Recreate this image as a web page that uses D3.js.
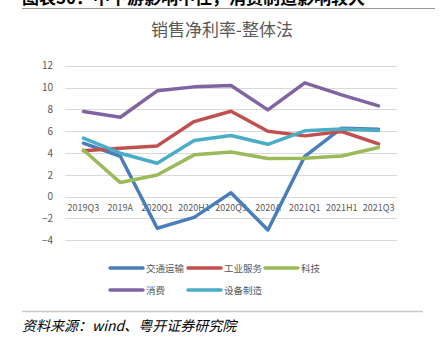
<!DOCTYPE html>
<html><head><meta charset="utf-8">
<script src="https://cdn.jsdelivr.net/npm/d3@7"></script>
<style>body{margin:0;background:#fff}svg{display:block}</style>
</head><body>
<svg id="c" width="439" height="342"></svg>
<script>
const categories = ["2019Q3","2019A","2020Q1","2020H1","2020Q3","2020A","2021Q1","2021H1","2021Q3"];
const transport = [4.9, 3.7, -2.9, -1.9, 0.35, -3.05, 3.7, 6.27, 6.18];
const industrialService = [4.2, 4.44, 4.65, 6.88, 7.83, 6.0, 5.57, 5.97, 4.83];
const tech = [4.28, 1.29, 1.99, 3.83, 4.1, 3.49, 3.52, 3.73, 4.5];
const consumption = [7.8, 7.28, 9.7, 10.06, 10.18, 7.95, 10.43, 9.33, 8.32];
const equipment = [5.36, 3.98, 3.06, 5.14, 5.6, 4.8, 6.03, 6.21, 6.06];
const yTicks = [-4,-2,0,2,4,6,8,10,12];
const seriesNames = ["交通运输","工业服务","科技","消费","设备制造"];
const seriesColors = ["#4A7EBB","#C0504D","#9BBB59","#8064A2","#4BACC6"];
const seriesData = [transport, industrialService, tech, consumption, equipment];

const svg = d3.select("#c");
const font = "'Noto Sans CJK SC', 'Noto Sans', sans-serif";

// header (clipped at the top, as in the reference)
svg.append("text").attr("x",22).attr("y",4).attr("font-family",font).attr("font-weight","bold")
  .attr("font-size",17).attr("fill","#000").text("图表30：中下游影响中性，消费制造影响较大");
svg.append("line").attr("x1",22).attr("x2",435).attr("y1",8.5).attr("y2",8.5).attr("stroke","#999").attr("stroke-width",1);

svg.append("text").attr("x",222).attr("y",36).attr("text-anchor","middle").attr("font-family",font)
  .attr("font-size",17).attr("fill","#595959").text("销售净利率-整体法");

const x = d3.scaleBand().domain(categories).range([65,397]);
const y = d3.scaleLinear().domain([-4,12]).range([240.3,65.7]);

const g = svg.append("g");
g.selectAll("line.grid").data(yTicks).join("line").attr("class","grid")
  .attr("x1",65).attr("x2",397).attr("y1",d=>Math.round(y(d))+0.5).attr("y2",d=>Math.round(y(d))+0.5)
  .attr("stroke","#D9D9D9").attr("stroke-width",1.2);

const yAxis = d3.axisLeft(y).tickValues(yTicks).tickSize(0).tickPadding(0);
const ya = svg.append("g").attr("transform","translate(53,0)").call(yAxis);
ya.select(".domain").remove();
ya.selectAll("text").attr("font-family",font).attr("font-size",10).attr("fill","#595959");

const xAxis = d3.axisBottom(x).tickSize(0).tickPadding(0);
const xa = svg.append("g").attr("transform",`translate(0,${y(0)+8})`).call(xAxis);
xa.select(".domain").remove();
xa.selectAll("text").attr("font-family",font).attr("font-size",9).attr("fill","#595959");

const line = d3.line().x((d,i)=>x(categories[i])+x.bandwidth()/2).y(d=>y(d));
seriesData.forEach((s,k)=>{
  svg.append("path").datum(s).attr("d",line).attr("fill","none")
    .attr("stroke",seriesColors[k]).attr("stroke-width",3.5).attr("stroke-linejoin","round").attr("stroke-linecap","round");
});

// legend
const legendPos = [[110,268],[188,268],[265,268],[110,290],[188,290]];
seriesNames.forEach((n,k)=>{
  const [lx,ly] = legendPos[k];
  svg.append("line").attr("x1",lx).attr("x2",lx+33).attr("y1",ly).attr("y2",ly)
    .attr("stroke",seriesColors[k]).attr("stroke-width",3.5).attr("stroke-linecap","round");
  svg.append("text").attr("x",lx+36).attr("y",ly+3.5).attr("font-family",font).attr("font-size",9.5)
    .attr("fill","#595959").text(n);
});

svg.append("line").attr("x1",22).attr("x2",423).attr("y1",311.5).attr("y2",311.5).attr("stroke","#c8c8c8").attr("stroke-width",1.5);
svg.append("text").attr("x",22).attr("y",331).attr("font-family",font).attr("font-size",14)
  .attr("font-style","italic").attr("fill","#000").text("资料来源：wind、粤开证券研究院");
</script>
</body></html>
